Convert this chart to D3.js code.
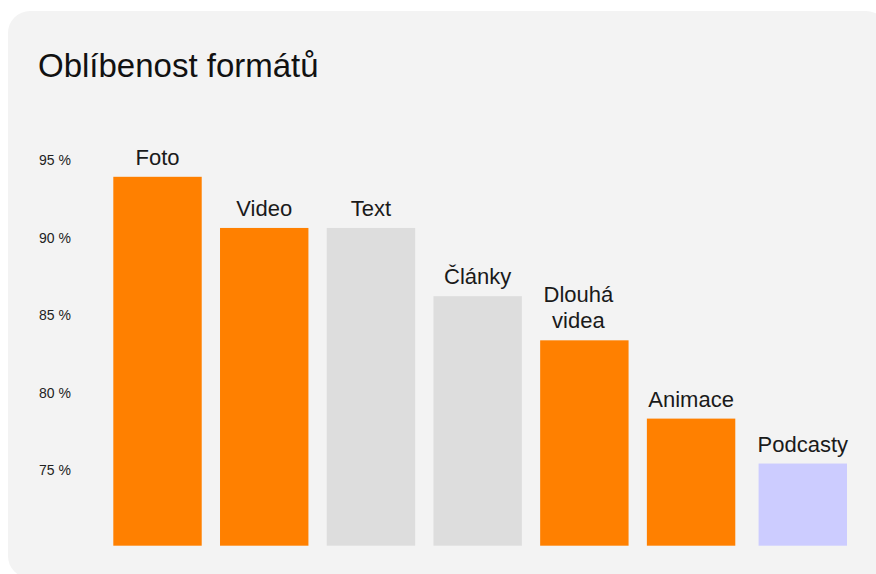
<!DOCTYPE html>
<html>
<head>
<meta charset="utf-8">
<script src="https://cdn.jsdelivr.net/npm/d3@7"></script>
<style>
  html, body { margin: 0; padding: 0; background: #ffffff; }
  svg { display: block; font-family: "Liberation Sans", Arial, Helvetica, sans-serif; }
</style>
</head>
<body>
<div id="chart"></div>
<script>
// Chart data
const categories = ["Foto", "Video", "Text", "Články", "Dlouhá videa", "Animace", "Podcasty"];
const values = [93.8, 90.5, 90.5, 86.1, 83.25, 78.2, 75.3];
const groups = ["orange", "orange", "gray", "gray", "orange", "orange", "lavender"];
const labelLines = [["Foto"], ["Video"], ["Text"], ["Články"], ["Dlouhá", "videa"], ["Animace"], ["Podcasty"]];
const yTicks = [75, 80, 85, 90, 95];

const colors = { orange: "#ff8000", gray: "#dddddd", lavender: "#ccccff" };

const width = 876;
const height = 574;

const svg = d3.select("#chart").append("svg")
    .attr("width", width)
    .attr("height", height);

// Card background
svg.append("rect")
    .attr("x", 8)
    .attr("y", 11)
    .attr("width", 880)
    .attr("height", 567)
    .attr("rx", 22)
    .attr("fill", "#f3f3f3");

svg.append("text")
    .attr("x", 38)
    .attr("y", 77)
    .attr("font-size", 33)
    .attr("fill", "#111")
    .text("Oblíbenost formátů");

const y = d3.scaleLinear()
    .domain([70, 95])
    .range([545.7, 158.2]);

const x = d3.scaleBand()
    .domain(categories)
    .range([113.3, 842])
    .paddingInner(0.1715)
    .paddingOuter(0);

// the podcast bar sits a little further right than the rest
const xPos = (d, i) => x(d) + (groups[i] === "lavender" ? 5 : 0);

// y axis labels only, no line or ticks
const yAxis = d3.axisLeft(y)
    .tickValues(yTicks)
    .tickSize(0)
    .tickFormat(d => d + " %");

svg.append("g")
    .attr("class", "y-axis")
    .attr("transform", "translate(39,0)")
    .call(yAxis)
    .call(g => g.select(".domain").remove())
    .selectAll("text")
    .attr("x", 0)
    .attr("dy", "0.45em")
    .attr("text-anchor", "start")
    .style("font-family", "\"Liberation Sans\", Arial, sans-serif")
    .style("font-size", "14px")
    .attr("fill", "#222");

svg.append("g")
    .selectAll("rect")
    .data(categories)
    .enter().append("rect")
    .attr("x", (d, i) => xPos(d, i))
    .attr("y", (d, i) => y(values[i]))
    .attr("width", x.bandwidth())
    .attr("height", (d, i) => y(70) - y(values[i]))
    .attr("fill", (d, i) => colors[groups[i]]);

const labels = svg.append("g")
    .selectAll("text")
    .data(categories)
    .enter().append("text")
    .attr("text-anchor", "middle")
    .attr("font-size", 22)
    .attr("fill", "#1a1a1a");

labels.each(function (d, i) {
    const lines = labelLines[i];
    // multi-line label block is nudged left in the original
    const cx = xPos(d, i) + x.bandwidth() / 2 - (lines.length > 1 ? 6 : 0);
    const baseY = y(values[i]) - 12;
    lines.forEach((line, j) => {
        d3.select(this).append("tspan")
            .attr("x", cx)
            .attr("y", baseY - (lines.length - 1 - j) * 26)
            .text(line);
    });
});
</script>
</body>
</html>
